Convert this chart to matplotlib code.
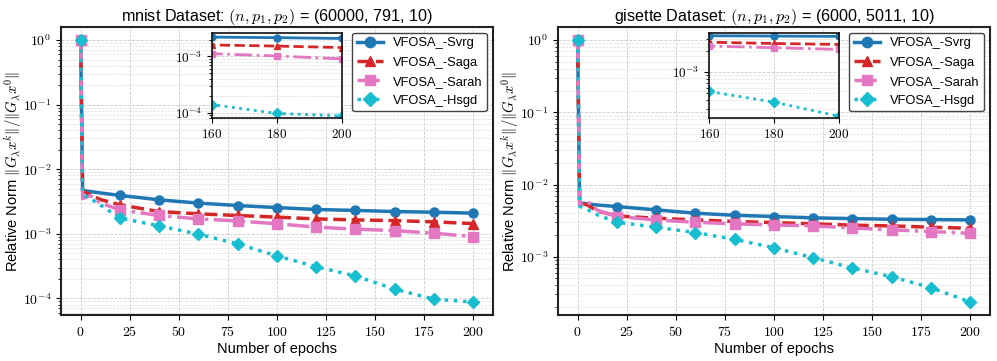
import numpy as np
import matplotlib
matplotlib.use("Agg")
import matplotlib.pyplot as plt
from matplotlib.ticker import FuncFormatter, LogLocator, NullFormatter

plt.rcParams['font.family'] = ['Liberation Sans', 'DejaVu Sans']
plt.rcParams['mathtext.fontset'] = 'cm'

epochs = [0, 1, 5, 10, 20, 40, 60, 80, 100, 120, 140, 160, 180, 200]

# mnist
mn_svrg  = [1.0, 4.7e-3, 4.5e-3, 4.3e-3, 3.93e-3, 3.36e-3, 2.99e-3, 2.74e-3, 2.55e-3, 2.38e-3, 2.30e-3, 2.21e-3, 2.16e-3, 2.09e-3]
mn_saga  = [1.0, 4.6e-3, 4.0e-3, 3.4e-3, 2.81e-3, 2.21e-3, 2.04e-3, 1.92e-3, 1.81e-3, 1.70e-3, 1.64e-3, 1.60e-3, 1.53e-3, 1.44e-3]
mn_sarah = [1.0, 3.5e-3, 3.9e-3, 3.0e-3, 2.35e-3, 1.92e-3, 1.70e-3, 1.58e-3, 1.43e-3, 1.27e-3, 1.18e-3, 1.12e-3, 1.02e-3, 9.06e-4]
mn_hsgd  = [1.0, 4.1e-3, 3.5e-3, 2.8e-3, 1.75e-3, 1.33e-3, 9.85e-4, 6.97e-4, 4.54e-4, 3.10e-4, 2.22e-4, 1.39e-4, 9.7e-5, 8.75e-5]

# gisette
gi_svrg  = [1.0, 5.5e-3, 5.4e-3, 5.2e-3, 4.95e-3, 4.45e-3, 4.0e-3, 3.75e-3, 3.6e-3, 3.45e-3, 3.37e-3, 3.3e-3, 3.27e-3, 3.23e-3]
gi_saga  = [1.0, 5.6e-3, 5.2e-3, 4.3e-3, 3.67e-3, 3.41e-3, 3.23e-3, 3.07e-3, 2.97e-3, 2.85e-3, 2.73e-3, 2.67e-3, 2.56e-3, 2.48e-3]
gi_sarah = [1.0, 5.1e-3, 5.8e-3, 4.4e-3, 3.6e-3, 3.23e-3, 3.0e-3, 2.85e-3, 2.75e-3, 2.67e-3, 2.5e-3, 2.35e-3, 2.23e-3, 2.11e-3]
gi_hsgd  = [1.0, 5.0e-3, 4.5e-3, 3.8e-3, 3.0e-3, 2.56e-3, 2.16e-3, 1.74e-3, 1.33e-3, 9.7e-4, 6.97e-4, 5.28e-4, 3.72e-4, 2.35e-4]

labels = ['VFOSA_-Svrg', 'VFOSA_-Saga', 'VFOSA_-Sarah', 'VFOSA_-Hsgd']
colors = ['#1f77b4', '#d62728', '#e377c2', '#17becf']
styles = ['-', '--', '-.', ':']
marks  = ['o', '^', 's', 'D']

panels = [
    ('mnist Dataset: $(n, p_1, p_2)$ = (60000, 791, 10)',
     [mn_svrg, mn_saga, mn_sarah, mn_hsgd], (8e-5, 2.6e-3)),
    ('gisette Dataset: $(n, p_1, p_2)$ = (6000, 5011, 10)',
     [gi_svrg, gi_saga, gi_sarah, gi_hsgd], (2.2e-4, 3.6e-3)),
]

mk = [i for i, e in enumerate(epochs) if e % 20 == 0]
logfmt = FuncFormatter(lambda v, p: r'$10^{%d}$' % int(round(np.log10(v))))
intfmt = FuncFormatter(lambda v, p: r'$%d$' % int(round(v)))

fig = plt.figure(figsize=(9.97, 3.61), dpi=100)
lefts = [0.0612, 0.5597]
for k, (title, series, inlim) in enumerate(panels):
    ax = fig.add_axes([lefts[k], 0.127, 0.433, 0.798])
    for s, lab, c, ls, m in zip(series, labels, colors, styles, marks):
        ax.plot(epochs, s, ls, color=c, marker=m, lw=2.5, ms=6.5,
                markevery=mk, label=lab)
    ax.set_yscale('log')
    ax.yaxis.set_major_locator(LogLocator(base=10, numticks=10))
    ax.yaxis.set_major_formatter(logfmt)
    ax.yaxis.set_minor_formatter(NullFormatter())
    ax.xaxis.set_major_formatter(intfmt)
    ax.tick_params(labelsize=10)
    ax.grid(True, which='major', ls='--', lw=0.6, color='#cccccc')
    ax.grid(True, which='minor', axis='y', ls='--', lw=0.5, color='#dddddd')
    for sp in ax.spines.values():
        sp.set_linewidth(1.5)
        sp.set_color('#222222')
    ax.set_title(title, fontsize=11.6, pad=4)
    ax.set_xlabel('Number of epochs', fontsize=10.5, labelpad=2)
    ax.set_ylabel(r'Relative Norm $\|G_\lambda x^k\|/\|G_\lambda x^0\|$', fontsize=10.5)
    ax.yaxis.set_label_coords(-0.086, 0.5)
    ax.legend(loc='upper right', fontsize=9.3, framealpha=1, edgecolor='#444444',
              handlelength=2.0, borderpad=0.35, labelspacing=0.55,
              borderaxespad=0.45, markerscale=1.15)

    ins = ax.inset_axes([0.35, 0.684, 0.30, 0.295])
    for s, c, ls, m in zip(series, colors, styles, marks):
        ins.plot(epochs, s, ls, color=c, marker=m, lw=2, ms=5, markevery=mk)
    ins.set_yscale('log')
    ins.set_xlim(160, 200)
    ins.set_ylim(*inlim)
    ins.set_xticks([160, 180, 200])
    ins.xaxis.set_major_formatter(intfmt)
    ins.yaxis.set_major_formatter(logfmt)
    ins.yaxis.set_minor_formatter(NullFormatter())
    ins.tick_params(labelsize=9.5)
    ins.grid(True, which='major', ls='--', lw=0.6, color='#cccccc')
    ins.grid(True, which='minor', axis='y', ls='--', lw=0.5, color='#dddddd')
    for sp in ins.spines.values():
        sp.set_linewidth(1.2)
        sp.set_color('#111111')

fig.savefig('out.png', dpi=100)
